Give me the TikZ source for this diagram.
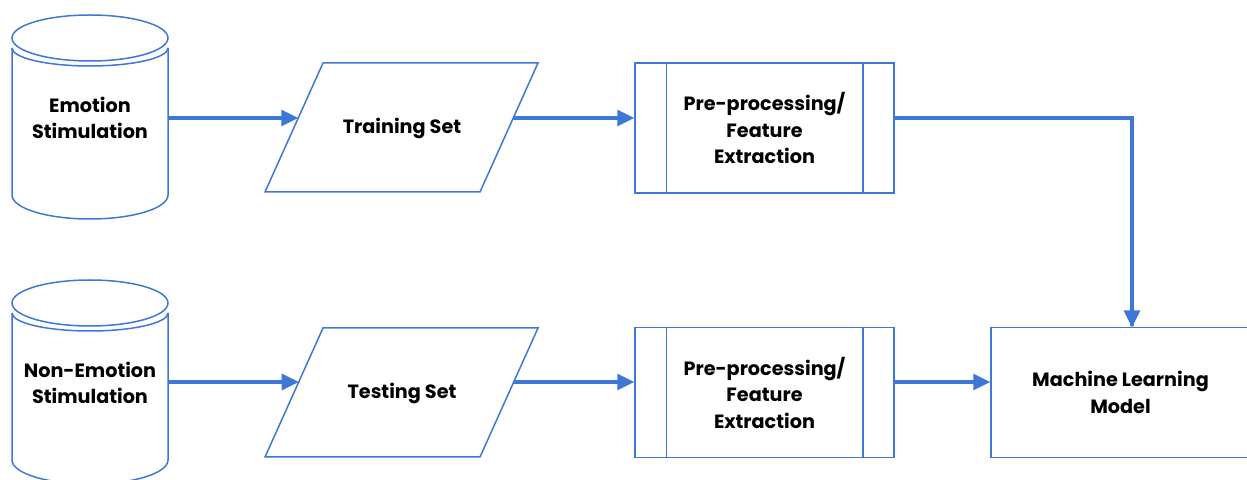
\documentclass[tikz,border=0pt]{standalone}
\usepackage{fontspec}
\setmainfont{Poppins}
\usetikzlibrary{arrows.meta}
\definecolor{blu}{HTML}{3F77D6}
\tikzset{
  shp/.style={draw=blu, line width=1.5pt},
  lbl/.style={font=\bfseries\fontsize{19.2}{26.5}\selectfont, align=center, text=black, inner sep=0pt},
  arr/.style={draw=blu, line width=3.2pt, -{Triangle[length=17pt,width=16pt]}},
  boxn/.style={shp, rectangle, minimum width=259pt, minimum height=130pt, inner sep=0pt},
}
\newcommand{\cylshape}[1]{%
  \begin{scope}[yshift=#1]
    \draw[shp] (90pt,441pt) ellipse [x radius=78pt, y radius=23pt];
    \draw[shp] (12pt,431pt) arc [start angle=180, end angle=360, x radius=78pt, y radius=18pt];
    \draw[shp] (12pt,431pt) -- (12pt,284pt) arc [start angle=180, end angle=360, x radius=78pt, y radius=24pt] -- (168pt,431pt);
  \end{scope}}
\newcommand{\parashape}[1]{%
  \begin{scope}[yshift=#1]
    \draw[shp] (323pt,416pt) -- (538pt,416pt) -- (480pt,287pt) -- (265pt,287pt) -- cycle;
  \end{scope}}
\begin{document}
\begin{tikzpicture}[x=1pt,y=1pt]
\useasboundingbox (0,0) rectangle (1247,479);
% cylinders
\cylshape{0pt}
\cylshape{-265pt}
\node[lbl, minimum width=156pt] (c1) at (90,361) {Emotion\\Stimulation};
\node[lbl, minimum width=156pt] (c2) at (90,96) {Non-Emotion\\Stimulation};
% parallelograms
\parashape{0pt}
\parashape{-265pt}
\node[lbl] (ts) at (402,351) {Training Set};
\node[lbl] (te) at (402,86) {Testing Set};
\coordinate (tsin) at (298.3,361);
\coordinate (tsout) at (513.3,361);
\coordinate (tein) at (298.7,97);
\coordinate (teout) at (513.7,97);
% process boxes
\node[boxn, lbl, draw=blu] (p1) at (764.5,351) {Pre-processing/\\Feature\\Extraction};
\node[boxn, lbl, draw=blu] (p2) at (764.5,86.5) {Pre-processing/\\Feature\\Extraction};
\foreach \n in {p1,p2}{
  \draw[shp] ([xshift=32pt]\n.north west) -- ([xshift=32pt]\n.south west);
  \draw[shp] ([xshift=-32pt]\n.north east) -- ([xshift=-32pt]\n.south east);
}
% ML box
\node[boxn, lbl, draw=blu] (ml) at (1120.5,86.5) {Machine Learning\\Model};
\coordinate (mlin) at (1132,151.5);
% connectors
\draw[arr] (c1.east) -- (tsin);
\draw[arr] (tsout) -- (p1.west |- tsout);
\draw[arr, -] (p1.east |- tsout) -| ([yshift=1pt]mlin);
\draw[arr] (mlin |- tsout) -- (mlin);
\draw[arr] (c2.east |- tein) -- (tein);
\draw[arr] (teout) -- (p2.west |- teout);
\draw[arr] (p2.east |- teout) -- (ml.west |- teout);
\end{tikzpicture}
\end{document}
